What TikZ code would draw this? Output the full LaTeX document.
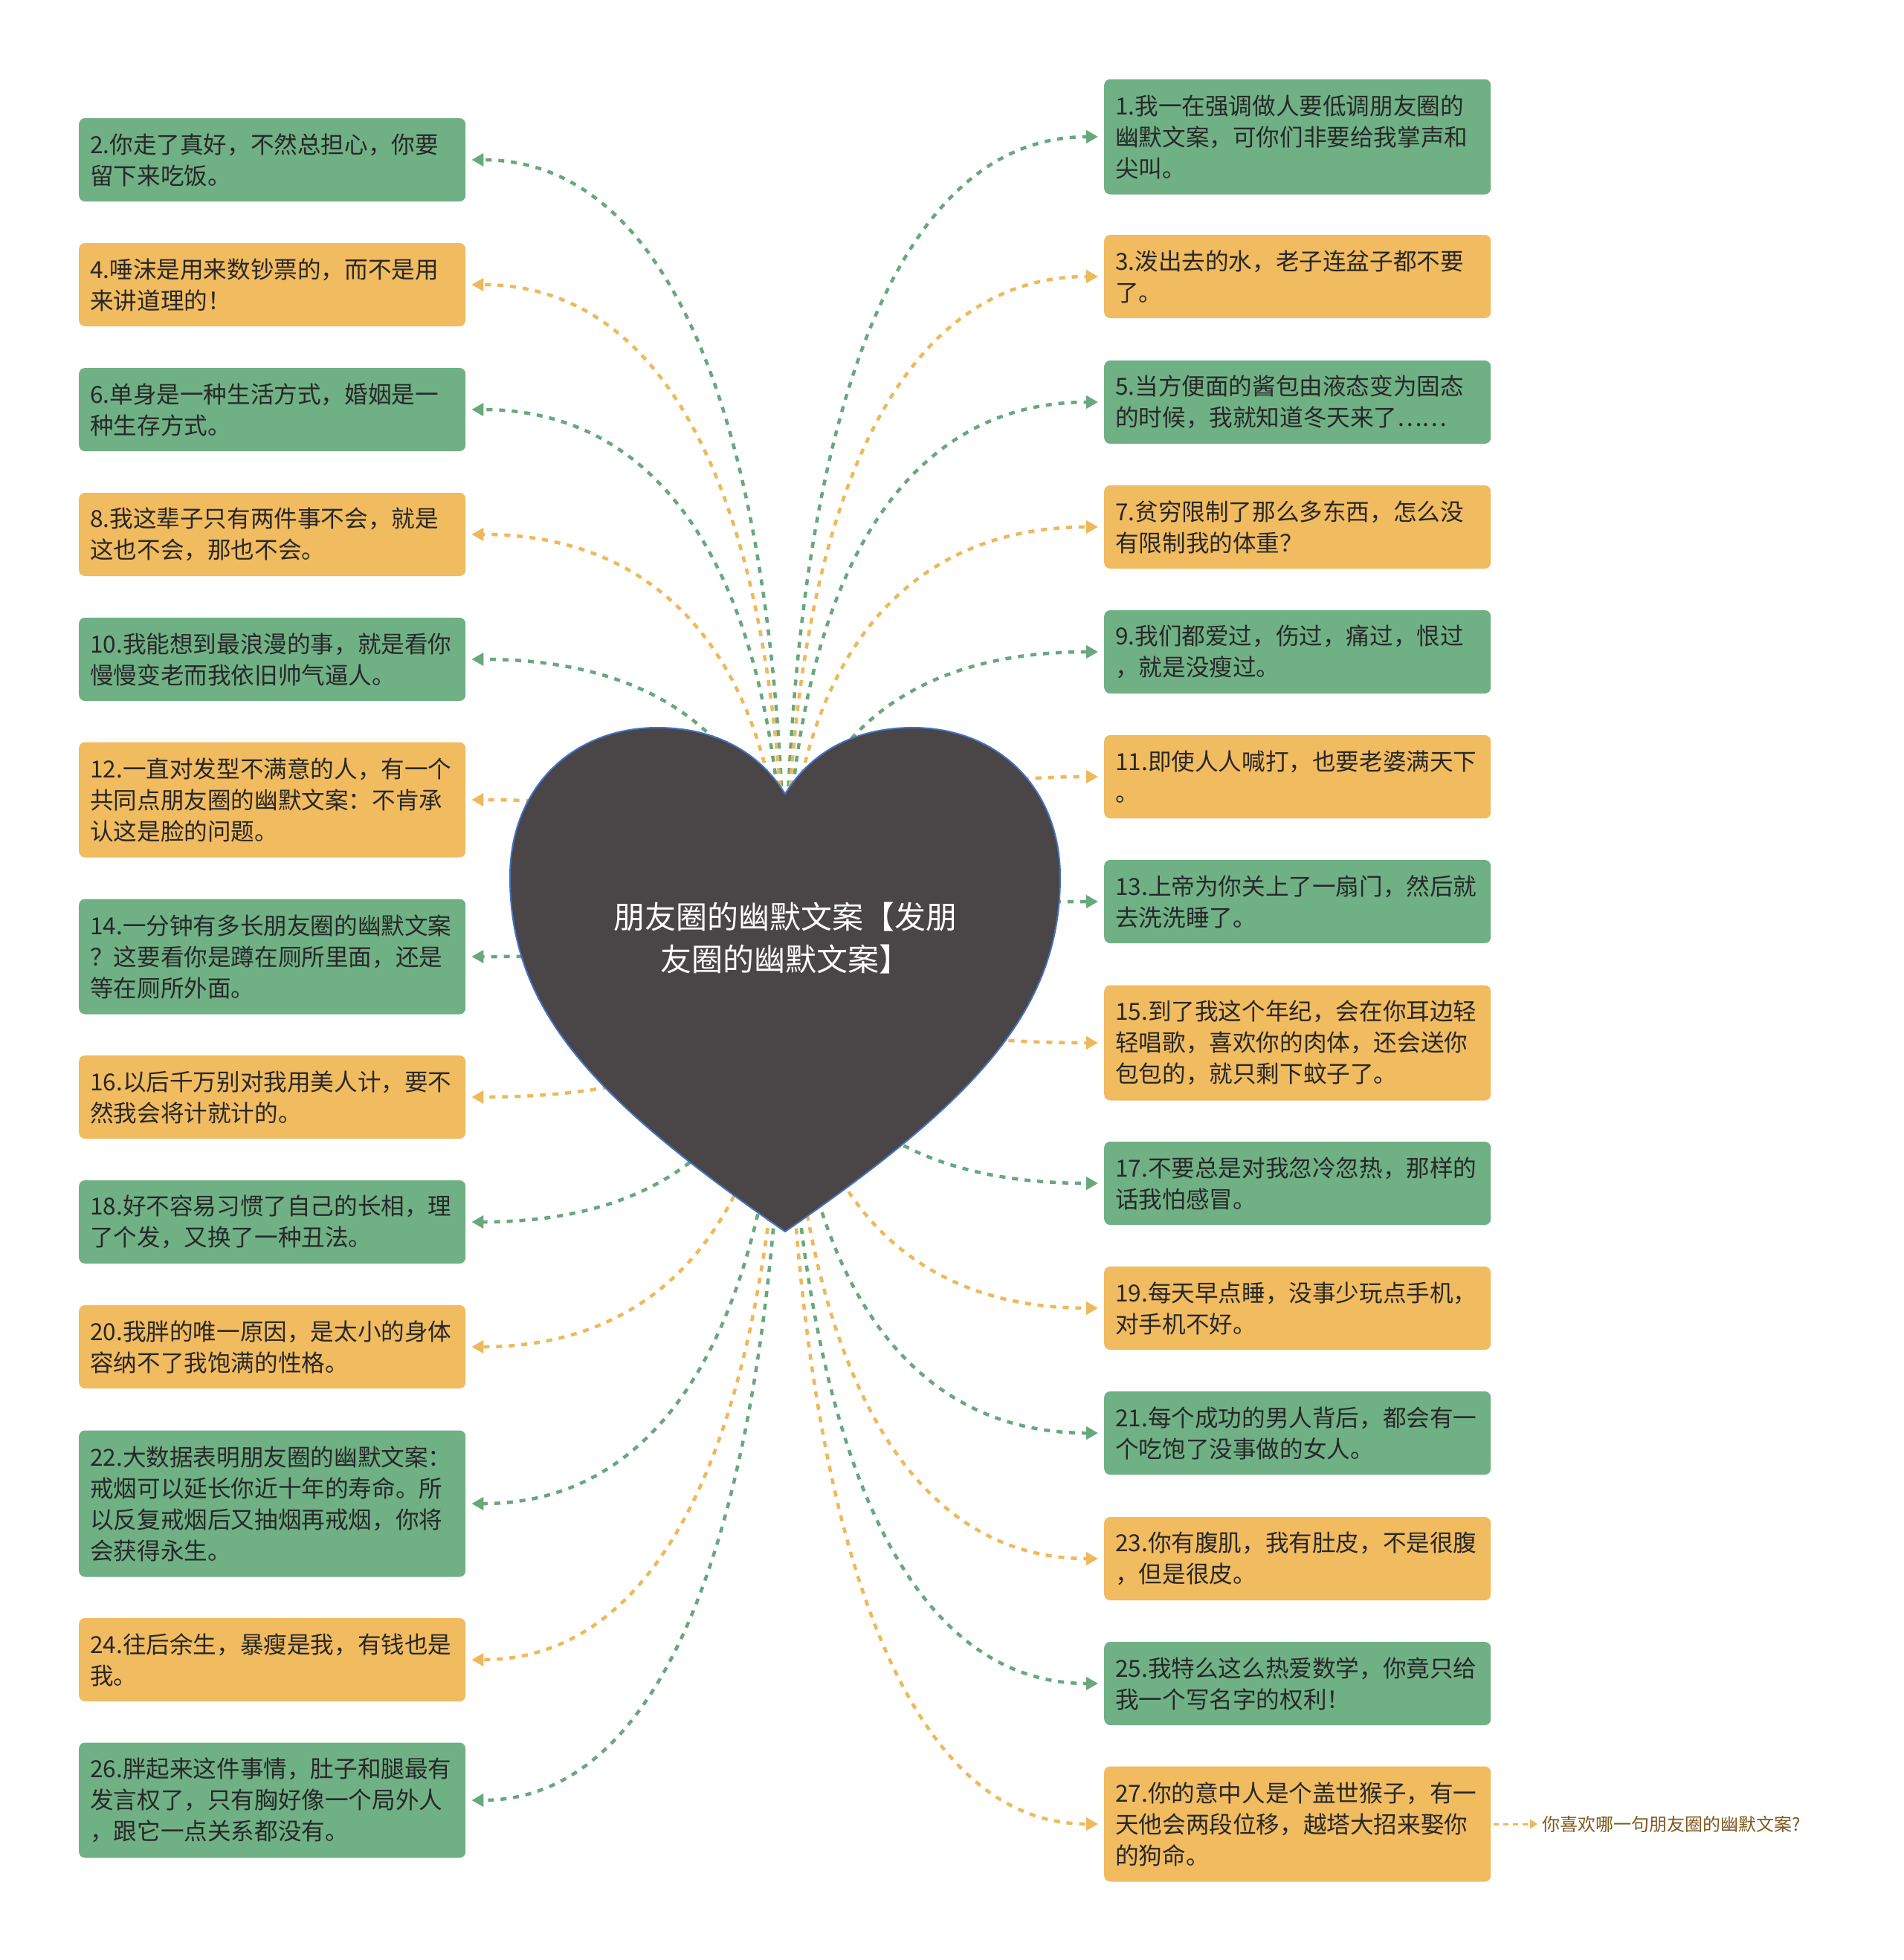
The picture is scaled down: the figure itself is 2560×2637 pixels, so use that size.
\documentclass[tikz,border=0pt]{standalone}
\usepackage{fontspec}
\setmainfont{Noto Sans CJK SC}
\usetikzlibrary{arrows.meta,calc}
\pgfdeclarelayer{bg}
\pgfsetlayers{bg,main}
\definecolor{gbox}{RGB}{112,176,133}
\definecolor{obox}{RGB}{241,187,96}
\definecolor{gline}{RGB}{104,168,124}
\definecolor{oline}{RGB}{239,184,90}
\definecolor{heartfill}{RGB}{74,69,70}
\definecolor{heartline}{RGB}{68,114,196}
\definecolor{txt}{RGB}{40,40,40}
\definecolor{lbl}{RGB}{128,88,30}
\begin{document}
\begin{tikzpicture}[x=1pt,y=-1pt,
  box/.style={rounded corners=8pt, text width=490pt, align=left, inner xsep=15pt, inner ysep=0pt,
    font=\fontsize{31.6}{42}\selectfont, text=txt, anchor=west},
  gb/.style={box, fill=gbox},
  ob/.style={box, fill=obox},
  h2/.style={minimum height=112pt},
  h3/.style={minimum height=155pt},
  h4/.style={minimum height=197pt},
  lk/.style={line width=4.5pt, dash pattern=on 8pt off 9pt, -{Triangle[length=16pt,width=17pt]}, shorten >=8pt},
]
\useasboundingbox (0,0) rectangle (2560,2637);
\begin{pgfonlayer}{bg}
\fill[white] (0,0) rectangle (2560,2637);
\end{pgfonlayer}

% heart
\fill[heartfill, draw=heartline, line width=2pt] (1056,1068) .. controls (1020,1010) and (960,979) .. (884,979)
  .. controls (770,979) and (686,1060) .. (686,1180)
  .. controls (686,1360) and (800,1480) .. (1056,1657)
  .. controls (1312,1480) and (1426,1360) .. (1426,1180)
  .. controls (1426,1060) and (1342,979) .. (1228,979)
  .. controls (1152,979) and (1092,1010) .. (1056,1068) -- cycle;
\node[text=white, align=center, font=\fontsize{42}{57}\selectfont, inner sep=0pt] (root) at (1056,1262)
  {朋友圈的幽默文案【发朋\\友圈的幽默文案】};

% left boxes
\node[gb,h2] (L2)  at (106,215)  {2.你走了真好，不然总担心，你要\\留下来吃饭。};
\node[ob,h2] (L4)  at (106,383)  {4.唾沫是用来数钞票的，而不是用\\来讲道理的！};
\node[gb,h2] (L6)  at (106,551)  {6.单身是一种生活方式，婚姻是一\\种生存方式。};
\node[ob,h2] (L8)  at (106,719)  {8.我这辈子只有两件事不会，就是\\这也不会，那也不会。};
\node[gb,h2] (L10) at (106,887)  {10.我能想到最浪漫的事，就是看你\\慢慢变老而我依旧帅气逼人。};
\node[ob,h3] (L12) at (106,1076) {12.一直对发型不满意的人，有一个\\共同点朋友圈的幽默文案：不肯承\\认这是脸的问题。};
\node[gb,h3] (L14) at (106,1287) {14.一分钟有多长朋友圈的幽默文案\\？这要看你是蹲在厕所里面，还是\\等在厕所外面。};
\node[ob,h2] (L16) at (106,1476) {16.以后千万别对我用美人计，要不\\然我会将计就计的。};
\node[gb,h2] (L18) at (106,1644) {18.好不容易习惯了自己的长相，理\\了个发，又换了一种丑法。};
\node[ob,h2] (L20) at (106,1812) {20.我胖的唯一原因，是太小的身体\\容纳不了我饱满的性格。};
\node[gb,h4] (L22) at (106,2023) {22.大数据表明朋友圈的幽默文案：\\戒烟可以延长你近十年的寿命。所\\以反复戒烟后又抽烟再戒烟，你将\\会获得永生。};
\node[ob,h2] (L24) at (106,2233) {24.往后余生，暴瘦是我，有钱也是\\我。};
\node[gb,h3] (L26) at (106,2422) {26.胖起来这件事情，肚子和腿最有\\发言权了，只有胸好像一个局外人\\，跟它一点关系都没有。};

% right boxes
\node[gb,h3] (R1)  at (1485,184)  {1.我一在强调做人要低调朋友圈的\\幽默文案，可你们非要给我掌声和\\尖叫。};
\node[ob,h2] (R3)  at (1485,372)  {3.泼出去的水，老子连盆子都不要\\了。};
\node[gb,h2] (R5)  at (1485,541)  {5.当方便面的酱包由液态变为固态\\的时候，我就知道冬天来了……};
\node[ob,h2] (R7)  at (1485,709)  {7.贫穷限制了那么多东西，怎么没\\有限制我的体重？};
\node[gb,h2] (R9)  at (1485,877)  {9.我们都爱过，伤过，痛过，恨过\\，就是没瘦过。};
\node[ob,h2] (R11) at (1485,1045) {11.即使人人喊打，也要老婆满天下\\。};
\node[gb,h2] (R13) at (1485,1213) {13.上帝为你关上了一扇门，然后就\\去洗洗睡了。};
\node[ob,h3] (R15) at (1485,1403) {15.到了我这个年纪，会在你耳边轻\\轻唱歌，喜欢你的肉体，还会送你\\包包的，就只剩下蚊子了。};
\node[gb,h2] (R17) at (1485,1592) {17.不要总是对我忽冷忽热，那样的\\话我怕感冒。};
\node[ob,h2] (R19) at (1485,1760) {19.每天早点睡，没事少玩点手机，\\对手机不好。};
\node[gb,h2] (R21) at (1485,1928) {21.每个成功的男人背后，都会有一\\个吃饱了没事做的女人。};
\node[ob,h2] (R23) at (1485,2097) {23.你有腹肌，我有肚皮，不是很腹\\，但是很皮。};
\node[gb,h2] (R25) at (1485,2265) {25.我特么这么热爱数学，你竟只给\\我一个写名字的权利！};
\node[ob,h3] (R27) at (1485,2454) {27.你的意中人是个盖世猴子，有一\\天他会两段位移，越塔大招来娶你\\的狗命。};

\node[anchor=west, text=lbl, font=\fontsize{24}{30}\selectfont, inner sep=6pt] (Q) at (2068,2454) {你喜欢哪一句朋友圈的幽默文案?};

\begin{pgfonlayer}{bg}
\foreach \n/\c in {L2/gline,L4/oline,L6/gline,L8/oline,L10/gline,L12/oline,L14/gline,L16/oline,L18/gline,L20/oline,L22/gline,L24/oline,L26/gline}
  \draw[lk,\c] (root.center) .. controls ($(root.center)!0.65!(root.center |- \n.east)$) and ($(\n.east)!0.65!(\n.east -| root.center)$) .. (\n.east);
\foreach \n/\c in {R1/gline,R3/oline,R5/gline,R7/oline,R9/gline,R11/oline,R13/gline,R15/oline,R17/gline,R19/oline,R21/gline,R23/oline,R25/gline,R27/oline}
  \draw[lk,\c] (root.center) .. controls ($(root.center)!0.65!(root.center |- \n.west)$) and ($(\n.west)!0.65!(\n.west -| root.center)$) .. (\n.west);
\end{pgfonlayer}
\draw[oline, line width=3pt, dash pattern=on 7pt off 6pt, -{Triangle[length=10pt,width=12pt]}, shorten <=4pt] (R27.east) -- (Q.west);
\end{tikzpicture}
\end{document}
